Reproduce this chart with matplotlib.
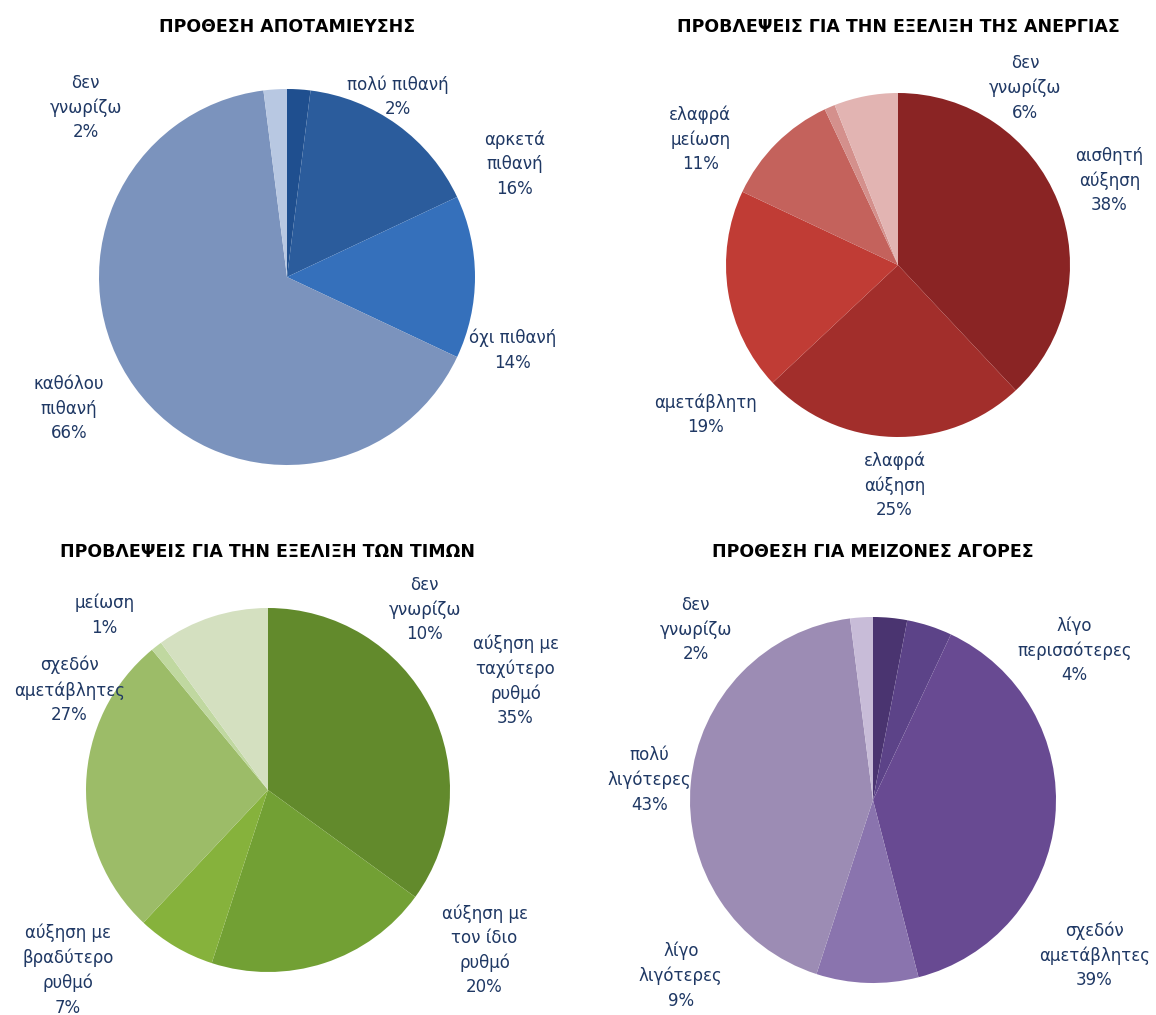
import matplotlib.pyplot as plt

W, H = 1156, 1015
TXT = '#1f3864'

# data
titles = ['ΠΡΟΘΕΣΗ ΑΠΟΤΑΜΙΕΥΣΗΣ', 'ΠΡΟΒΛΕΨΕΙΣ ΓΙΑ ΤΗΝ ΕΞΕΛΙΞΗ ΤΗΣ ΑΝΕΡΓΙΑΣ',
          'ΠΡΟΒΛΕΨΕΙΣ ΓΙΑ ΤΗΝ ΕΞΕΛΙΞΗ ΤΩΝ ΤΙΜΩΝ', 'ΠΡΟΘΕΣΗ ΓΙΑ ΜΕΙΖΟΝΕΣ ΑΓΟΡΕΣ']

sav_labels = ['πολύ πιθανή', 'αρκετά\nπιθανή', 'όχι πιθανή', 'καθόλου\nπιθανή', 'δεν\nγνωρίζω']
sav_values = [2, 16, 14, 66, 2]

unemp_labels = ['αισθητή\nαύξηση', 'ελαφρά\nαύξηση', 'αμετάβλητη', 'ελαφρά\nμείωση', '', 'δεν\nγνωρίζω']
unemp_values = [38, 25, 19, 11, 1, 6]

price_labels = ['αύξηση με\nταχύτερο\nρυθμό', 'αύξηση με\nτον ίδιο\nρυθμό', 'αύξηση με\nβραδύτερο\nρυθμό',
                'σχεδόν\nαμετάβλητες', 'μείωση', 'δεν\nγνωρίζω']
price_values = [35, 20, 7, 27, 1, 10]

buy_labels = ['', 'λίγο\nπερισσότερες', 'σχεδόν\nαμετάβλητες', 'λίγο\nλιγότερες', 'πολύ\nλιγότερες', 'δεν\nγνωρίζω']
buy_values = [3, 4, 39, 9, 43, 2]

charts = [
    dict(values=sav_values, labels=sav_labels, center=(287, 277), r=188, ty=27,
         colors=['#1f4f8f', '#2b5c9c', '#3570bb', '#7b93bd', '#b8c8e2'],
         pos=[(0.59, 0.96), (1.21, 0.60), (1.2, -0.39), (-1.16, -0.70), (-1.07, 0.9)]),
    dict(values=unemp_values, labels=unemp_labels, center=(898, 265), r=172, ty=27,
         colors=['#8a2424', '#a22e2b', '#c03c35', '#c4625c', '#d4908c', '#e2b4b2'],
         pos=[(1.23, 0.49), (-0.02, -1.28), (-1.12, -0.87), (-1.15, 0.73), None, (0.74, 1.03)]),
    dict(values=price_values, labels=price_labels, center=(268, 790), r=182, ty=552,
         colors=['#628a2c', '#72a034', '#86b23c', '#9cbc68', '#c0d8a0', '#d4e0c0'],
         pos=[(1.36, 0.6), (1.19, -0.88), (-1.10, -0.99), (-1.09, 0.55), (-0.9, 0.96), (0.86, 0.99)]),
    dict(values=buy_values, labels=buy_labels, center=(873, 800), r=183, ty=552,
         colors=['#4a3470', '#5c4388', '#684a92', '#8a74ae', '#9c8cb4', '#c8bcd8'],
         pos=[None, (1.10, 0.82), (1.21, -0.85), (-1.05, -0.96), (-1.22, 0.11), (-0.97, 0.93)]),
]

fig = plt.figure(figsize=(W / 100, H / 100), dpi=100)
L = 1.6
for t, c in zip(titles, charts):
    cx, cy = c['center']
    r = c['r']
    side = 2 * r * L
    ax = fig.add_axes([(cx - side / 2) / W, 1 - (cy + side / 2) / H, side / W, side / H])
    ax.pie(c['values'], colors=c['colors'], startangle=90, counterclock=False,
           wedgeprops=dict(linewidth=0))
    ax.set_xlim(-L, L)
    ax.set_ylim(-L, L)
    ax.set_aspect('equal')
    ax.axis('off')
    for lab, v, p in zip(c['labels'], c['values'], c['pos']):
        if p is None or not lab:
            continue
        ax.text(p[0], p[1], f'{lab}\n{v}%', ha='center', va='center', color=TXT,
                fontsize=12, linespacing=1.45)
    fig.text(cx / W, 1 - c['ty'] / H, t, ha='center', va='center', fontsize=12.5,
             fontweight='bold', color='black')

fig.savefig('out.png', dpi=100)
